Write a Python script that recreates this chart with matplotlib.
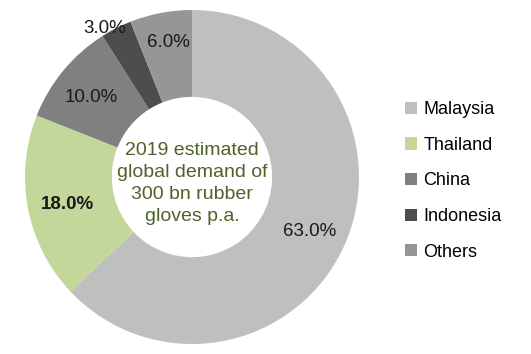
import numpy as np
import matplotlib.pyplot as plt

plt.rcParams['font.family'] = ['Liberation Sans', 'DejaVu Sans']

countries = ['Malaysia', 'Thailand', 'China', 'Indonesia', 'Others']
shares = [63.0, 18.0, 10.0, 3.0, 6.0]
colors = ['#bfbfbf', '#c4d79b', '#808080', '#4d4d4d', '#969696']
center_text = '2019 estimated\nglobal demand of\n300 bn rubber\ngloves p.a.'

W, H = 531, 354
fig = plt.figure(figsize=(W / 100, H / 100), dpi=100)
cx, cy, R = 192, 177, 167
ax = fig.add_axes([(cx - R) / W, (H - cy - R) / H, 2 * R / W, 2 * R / H])

wedges, _ = ax.pie(shares, colors=colors, startangle=90, counterclock=False,
                   radius=1, wedgeprops=dict(width=0.52, linewidth=0))
ax.set_xlim(-1, 1)
ax.set_ylim(-1, 1)
ax.axis('off')

# percentage labels near the middle of each wedge (small Indonesia one sits outside)
dist = [0.77, 0.76, 0.78, 1.05, 0.84]
nudge = [0, 0, 0, 3, -1]
for w, v, d, n in zip(wedges, shares, dist, nudge):
    ang = np.deg2rad((w.theta1 + w.theta2) / 2 + n)
    ax.text(d * np.cos(ang), d * np.sin(ang) - 0.02, f'{v:.1f}%', ha='center', va='center',
            fontsize=13.5, color='#1a1a1a',
            fontweight='bold' if v == 18.0 else 'normal')

ax.text(0, -0.04, center_text, ha='center', va='center', fontsize=14,
        color='#4f6228', linespacing=1.38)

fig.legend(wedges, countries, loc='upper left', bbox_to_anchor=(398 / W, 1 - 94 / H),
           frameon=False, fontsize=13, handlelength=0.65, handleheight=0.65,
           handletextpad=0.35, labelspacing=1.03, borderaxespad=0)

fig.savefig('out.png', dpi=100)
